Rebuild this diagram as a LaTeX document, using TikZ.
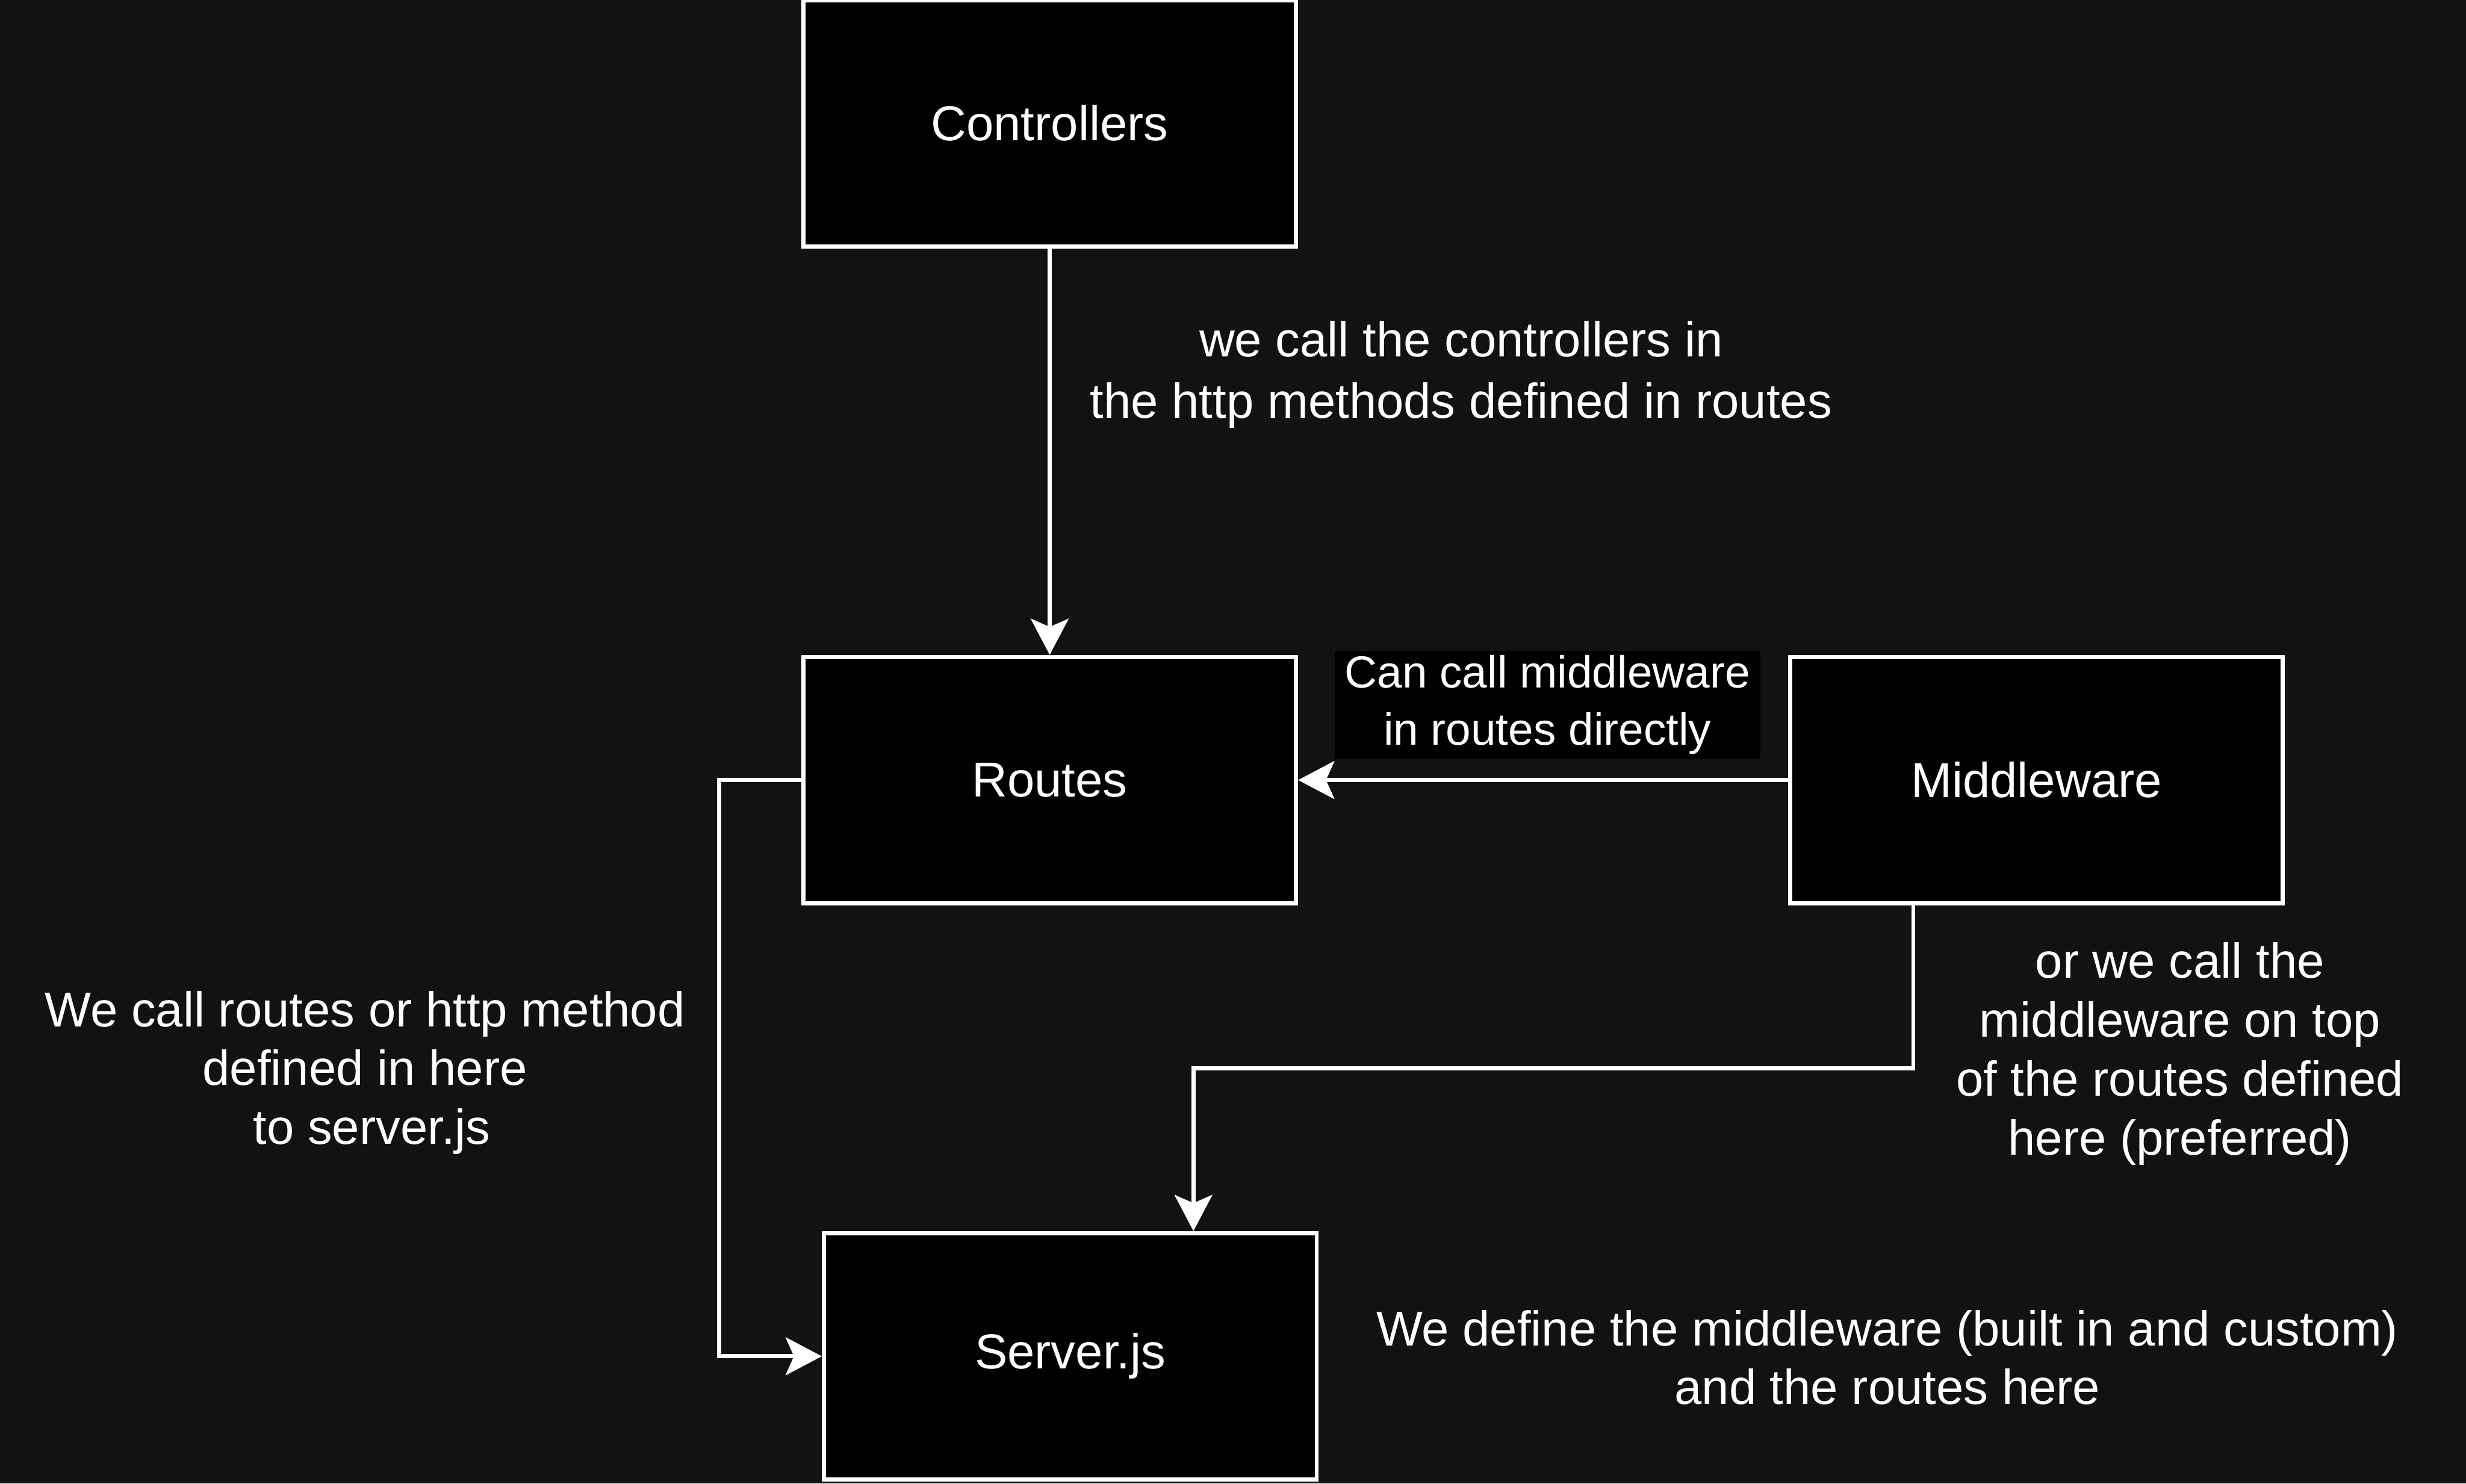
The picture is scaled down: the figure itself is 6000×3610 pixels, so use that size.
\documentclass[tikz,border=0pt]{standalone}
\usepackage{fontspec}
\setmainfont{Liberation Sans}
\usetikzlibrary{arrows.meta, positioning}
\definecolor{bgdark}{RGB}{18,18,18}
\definecolor{boxfill}{RGB}{0,0,0}

\begin{document}
\begin{tikzpicture}[x=0.005cm, y=-0.005cm,
    layer/.style={draw=white, fill=boxfill, line width=1.42pt, minimum width=6cm, minimum height=3cm, text=white, font=\fontsize{17}{20.4}\selectfont},
    conn/.style={draw=white, line width=1.42pt, -{Stealth[length=4.4mm, width=4.6mm, inset=1mm]}},
    note/.style={text=white, align=center, font=\fontsize{17}{20.4}\selectfont}]
    \fill[bgdark] (0,0) rectangle (6000,3610);
    \useasboundingbox (0,0) rectangle (6000,3610);

    % the four layers
    \node[layer] (ctrl) at (2554,300) {Controllers};
    \node[layer] (rt) at (2554,1898) {Routes};
    \node[layer] (mw) at (4955,1898) {Middleware};
    \node[layer] (srv) at (2604,3300) {Server.js};

    % connectors
    \draw[conn] (ctrl) -- (rt);
    \draw[conn] (mw) -- (rt);
    \coordinate (mwout) at ([xshift=-1.5cm]mw.south);
    \coordinate (srvin) at ([xshift=1.5cm]srv.north);
    \draw[conn] (mwout) -- ++(0,397) -| (srvin);
    \draw[conn] (rt.west) -- ++(-200,0) |- (srv.west);

    % notes
    \node[note, font=\fontsize{17}{21.2}\selectfont] (callctrl) at (3555,912) {we call the controllers in\\the http methods defined in routes};
    \node[note, font=\fontsize{15.6}{19.8}\selectfont, fill=boxfill, inner xsep=3.5pt, inner ysep=1.5pt] (direct) at (3765,1715) {Can call middleware\\in routes directly};
    \node[note] (ontop) at (5304,2564) {or we call the\\middleware on top\\of the routes defined\\here (preferred)};
    \node[note] (callrt) at (888,2610) {We call routes or http method\\defined in here\\\ to server.js};
    \node[note] (define) at (4592,3303) {We define the middleware (built in and custom)\\and the routes here};
\end{tikzpicture}
\end{document}
